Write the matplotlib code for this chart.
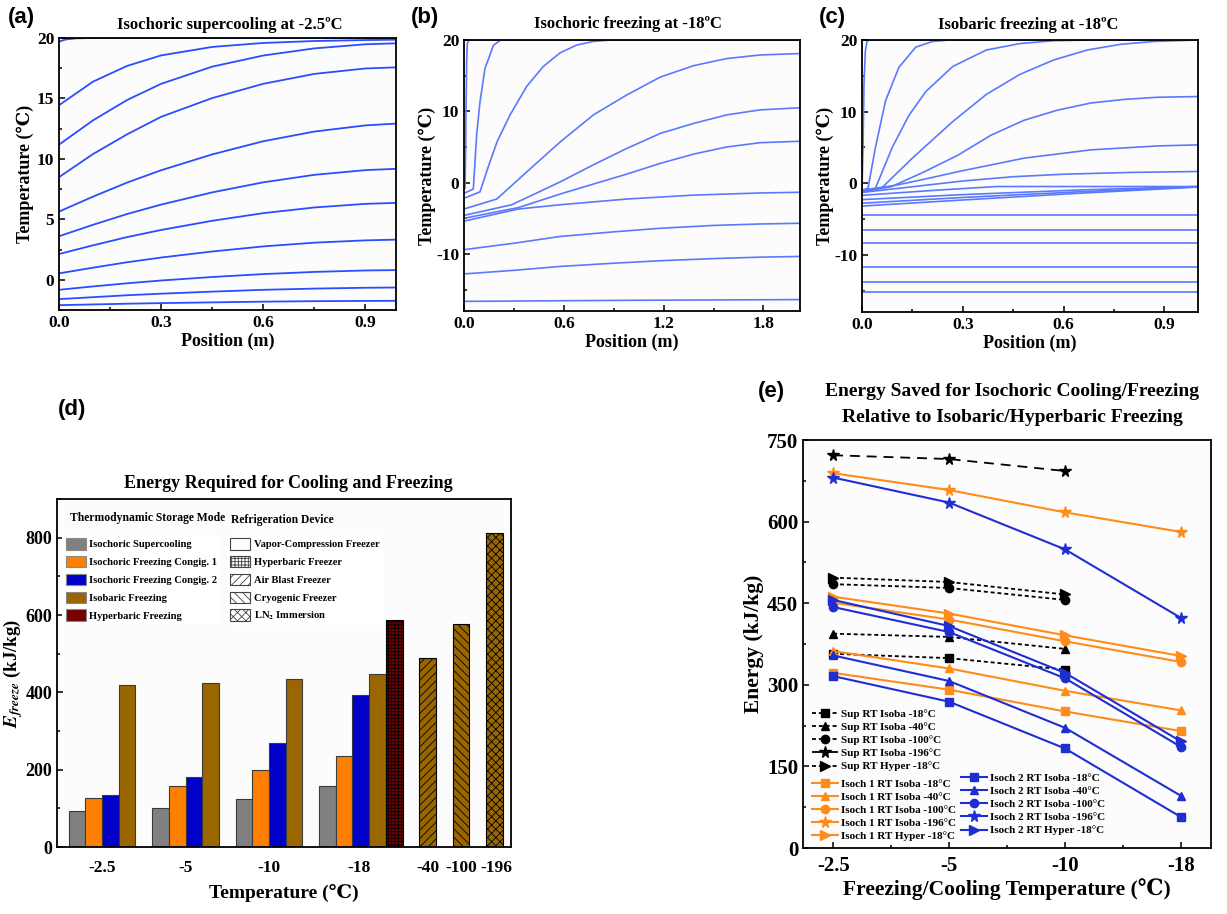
import matplotlib
matplotlib.use('Agg')
import matplotlib.pyplot as plt
from matplotlib.patches import Patch
from matplotlib.ticker import MultipleLocator, FixedLocator

plt.rcParams['font.family'] = ['Liberation Serif', 'DejaVu Serif', 'DejaVu Sans']
plt.rcParams['font.weight'] = 'bold'
plt.rcParams['axes.labelweight'] = 'bold'
plt.rcParams['axes.titleweight'] = 'bold'
plt.rcParams['mathtext.fontset'] = 'stix'
plt.rcParams['hatch.linewidth'] = 0.6
plt.rcParams['axes.linewidth'] = 1.3
plt.rcParams['axes.unicode_minus'] = False

# ---------------- Panel (a): isochoric supercooling profiles ----------------
a_pos = [0, 0.1, 0.2, 0.3, 0.45, 0.6, 0.75, 0.9, 0.99]
a_top_pos = [0, 0.02, 0.05, 0.1, 0.99]
a_top_temp = [19.70, 19.88, 19.97, 20.0, 20.0]
a_profiles = [
    [14.44, 16.39, 17.69, 18.56, 19.26, 19.59, 19.75, 19.83, 19.86],
    [11.18, 13.19, 14.87, 16.21, 17.63, 18.55, 19.14, 19.48, 19.56],
    [8.49, 10.40, 12.03, 13.48, 15.03, 16.21, 17.03, 17.48, 17.57],
    [5.64, 6.88, 8.04, 9.06, 10.37, 11.46, 12.26, 12.77, 12.92],
    [3.60, 4.55, 5.44, 6.22, 7.23, 8.06, 8.68, 9.07, 9.18],
    [2.13, 2.85, 3.53, 4.12, 4.88, 5.51, 5.98, 6.28, 6.36],
    [0.53, 1.00, 1.45, 1.84, 2.34, 2.76, 3.07, 3.26, 3.32],
    [-0.83, -0.55, -0.29, -0.06, 0.23, 0.47, 0.65, 0.77, 0.80],
    [-1.60, -1.44, -1.28, -1.15, -0.98, -0.83, -0.73, -0.66, -0.64],
    [-2.10, -2.04, -1.98, -1.93, -1.87, -1.81, -1.77, -1.75, -1.74],
]

# ---------------- Panel (b): isochoric freezing profiles ----------------
b_curves = [
    ([0, 0.006, 0.009, 0.012, 0.016, 0.02, 0.03, 2.02], [-0.8, -0.8, 3.0, 10.0, 17.0, 19.5, 20.0, 20.0]),
    ([0, 0.056, 0.076, 0.096, 0.126, 0.177, 0.217, 0.24, 2.02], [-1.5, -0.9, 6.7, 11.3, 16.0, 19.25, 19.95, 20.0, 20.0]),
    ([0, 0.096, 0.15, 0.2, 0.277, 0.377, 0.477, 0.578, 0.678, 0.778, 0.88, 2.02],
     [-2.2, -1.3, 2.5, 5.8, 9.5, 13.5, 16.3, 18.2, 19.3, 19.8, 20.0, 20.0]),
    ([0, 0.197, 0.377, 0.578, 0.778, 0.979, 1.18, 1.38, 1.58, 1.78, 2.02],
     [-3.7, -2.3, 1.5, 5.7, 9.5, 12.3, 14.8, 16.4, 17.4, 17.9, 18.1]),
    ([0, 0.287, 0.578, 0.778, 0.979, 1.18, 1.38, 1.58, 1.78, 2.02],
     [-4.6, -3.1, 0.1, 2.5, 4.8, 6.9, 8.3, 9.5, 10.2, 10.5]),
    ([0, 0.327, 0.578, 0.778, 0.979, 1.18, 1.38, 1.58, 1.78, 2.02],
     [-5.0, -3.5, -1.6, -0.2, 1.2, 2.7, 4.0, 5.0, 5.6, 5.8]),
    ([0, 0.327, 0.578, 0.979, 1.38, 1.78, 2.02], [-5.4, -3.7, -3.1, -2.3, -1.75, -1.45, -1.35]),
    ([0, 0.3, 0.578, 0.9, 1.18, 1.5, 1.78, 2.02], [-9.4, -8.5, -7.55, -6.9, -6.4, -6.0, -5.8, -5.7]),
    ([0, 0.3, 0.578, 0.9, 1.18, 1.5, 1.78, 2.02], [-12.8, -12.3, -11.75, -11.3, -10.95, -10.65, -10.45, -10.35]),
    ([0, 1.0, 2.02], [-16.65, -16.5, -16.4]),
]

# ---------------- Panel (c): isobaric freezing profiles ----------------
c_curves = [
    ([0, 0.003, 0.006, 0.01, 0.015, 0.02, 1.0], [-0.8, 5.0, 14.0, 18.5, 19.8, 20.0, 20.0]),
    ([0, 0.018, 0.04, 0.07, 0.11, 0.16, 0.21, 0.26, 1.0], [-1.0, -0.7, 5.0, 11.5, 16.2, 19.0, 19.8, 20.0, 20.0]),
    ([0, 0.04, 0.09, 0.14, 0.19, 0.27, 0.37, 0.47, 0.57, 0.68, 1.0],
     [-1.1, -0.7, 5.0, 9.5, 12.8, 16.3, 18.6, 19.5, 19.9, 20.0, 20.0]),
    ([0, 0.06, 0.15, 0.27, 0.37, 0.47, 0.57, 0.67, 0.77, 0.87, 1.0],
     [-1.3, -0.6, 3.5, 8.6, 12.4, 15.2, 17.2, 18.6, 19.4, 19.8, 20.0]),
    ([0, 0.087, 0.186, 0.285, 0.384, 0.483, 0.582, 0.681, 0.78, 0.879, 1.0],
     [-1.2, -0.5, 1.6, 3.9, 6.7, 8.8, 10.2, 11.2, 11.7, 12.0, 12.1]),
    ([0, 0.1, 0.2, 0.285, 0.483, 0.681, 0.879, 1.0], [-1.0, -0.3, 0.7, 1.6, 3.5, 4.65, 5.2, 5.35]),
    ([0, 0.15, 0.3, 0.45, 0.6, 0.8, 1.0], [-1.3, -0.5, 0.3, 0.9, 1.25, 1.5, 1.63]),
    ([0, 0.2, 0.4, 1.0], [-1.7, -1.05, -0.47, -0.47]),
    ([0, 0.3, 0.65, 1.0], [-2.3, -1.6, -0.95, -0.47]),
    ([0, 0.3, 0.65, 1.0], [-2.8, -2.0, -1.2, -0.5]),
    ([0, 0.3, 0.65, 1.0], [-3.2, -2.35, -1.4, -0.55]),
]
c_flat_temps = [-4.42, -6.55, -8.37, -11.65, -13.86, -15.2]

# ---------------- Panel (d): energy required ----------------
d_temps = ['-2.5', '-5', '-10', '-18', '-40', '-100', '-196']
d_supercooling = [94, 102, 123, 159]
d_isoch1 = [127, 158, 199, 235]
d_isoch2 = [134, 181, 268, 392]
d_isobaric = [419, 425, 435, 448]
d_hyperbaric = [588]
d_isobaric_low = [488, 577, 813]   # -40 air blast, -100 cryogenic, -196 LN2

# ---------------- Panel (e): energy saved ----------------
e_temps = ['-2.5', '-5', '-10', '-18']
sup_isoba_18 = [357, 349, 328]
sup_isoba_40 = [394, 388, 366]
sup_isoba_100 = [485, 478, 456]
sup_isoba_196 = [722, 715, 693]
sup_hyper_18 = [497, 489, 466]
i1_isoba_18 = [322, 291, 251, 215]
i1_isoba_40 = [362, 330, 289, 253]
i1_isoba_100 = [451, 420, 380, 342]
i1_isoba_196 = [689, 658, 617, 581]
i1_hyper_18 = [462, 431, 391, 353]
i2_isoba_18 = [316, 269, 183, 57]
i2_isoba_40 = [354, 307, 221, 96]
i2_isoba_100 = [443, 397, 312, 186]
i2_isoba_196 = [681, 635, 549, 423]
i2_hyper_18 = [456, 408, 322, 196]

W, H = 1227, 914
fig = plt.figure(figsize=(W / 100, H / 100), dpi=100)
fig.patch.set_facecolor('white')


def rect(l, t, r, b):
    return [l / W, 1 - b / H, (r - l) / W, (b - t) / H]


def ftext(x, y, s, **kw):
    fig.text(x / W, 1 - y / H, s, ha='center', va='center', **kw)


def style_axes(ax, tick_size):
    ax.set_facecolor('#fcfcfc')
    ax.tick_params(which='both', direction='in', top=False, right=False, labelsize=tick_size, width=1.1)
    ax.tick_params(which='major', length=4)
    ax.tick_params(which='minor', length=2.5)
    for lab in ax.get_xticklabels() + ax.get_yticklabels():
        lab.set_fontweight('bold')


line_a = '#2b4cff'
line_bc = '#5b79ff'

# ---- (a)
axa = fig.add_axes(rect(59, 38, 396, 310))
axa.plot(a_top_pos, a_top_temp, color=line_a, lw=1.3)
for prof in a_profiles:
    axa.plot(a_pos, prof, color=line_a, lw=1.3)
axa.set_xlim(0, 0.99)
axa.set_ylim(-2.5, 20)
axa.xaxis.set_major_locator(FixedLocator([0.0, 0.3, 0.6, 0.9]))
axa.xaxis.set_minor_locator(MultipleLocator(0.15))
axa.yaxis.set_major_locator(MultipleLocator(5))
axa.yaxis.set_minor_locator(MultipleLocator(2.5))
axa.set_xticklabels(['0.0', '0.3', '0.6', '0.9'])
axa.set_xlabel('Position (m)', fontsize=13, labelpad=1)
axa.set_ylabel('Temperature (\u2103)', fontsize=13, labelpad=2)
style_axes(axa, 12.5)

# ---- (b)
axb = fig.add_axes(rect(464, 40, 800, 311))
for xs, ys in b_curves:
    axb.plot(xs, ys, color=line_bc, lw=1.2)
axb.set_xlim(0, 2.02)
axb.set_ylim(-18, 20)
axb.xaxis.set_major_locator(FixedLocator([0.0, 0.6, 1.2, 1.8]))
axb.xaxis.set_minor_locator(MultipleLocator(0.3))
axb.yaxis.set_major_locator(FixedLocator([-10, 0, 10, 20]))
axb.yaxis.set_minor_locator(MultipleLocator(5))
axb.set_xticklabels(['0.0', '0.6', '1.2', '1.8'])
axb.set_xlabel('Position (m)', fontsize=13, labelpad=1)
axb.set_ylabel('Temperature (\u2103)', fontsize=13, labelpad=0)
style_axes(axb, 12.5)

# ---- (c)
axc = fig.add_axes(rect(862, 40, 1198, 312))
for xs, ys in c_curves:
    axc.plot(xs, ys, color=line_bc, lw=1.2)
for t in c_flat_temps:
    axc.plot([0, 1.0], [t, t], color=line_bc, lw=1.2)
axc.set_xlim(0, 1.0)
axc.set_ylim(-18, 20)
axc.xaxis.set_major_locator(FixedLocator([0.0, 0.3, 0.6, 0.9]))
axc.xaxis.set_minor_locator(MultipleLocator(0.15))
axc.yaxis.set_major_locator(FixedLocator([-10, 0, 10, 20]))
axc.yaxis.set_minor_locator(MultipleLocator(5))
axc.set_xticklabels(['0.0', '0.3', '0.6', '0.9'])
axc.set_xlabel('Position (m)', fontsize=13, labelpad=1)
axc.set_ylabel('Temperature (\u2103)', fontsize=13, labelpad=0)
style_axes(axc, 12.5)

# titles & letters for top row
ftext(230, 25, 'Isochoric supercooling at -2.5\u00baC', fontsize=12, fontweight='bold')
ftext(628, 24, 'Isochoric freezing at -18\u00baC', fontsize=12, fontweight='bold')
ftext(1028, 25, 'Isobaric freezing at -18\u00baC', fontsize=12, fontweight='bold')
for x, y, s in [(21, 17, '(a)'), (425, 18, '(b)'), (832, 17, '(c)'), (72, 410, '(d)'), (771, 392, '(e)')]:
    ftext(x, y, s, fontsize=16, fontweight='bold', family=['Liberation Sans', 'DejaVu Sans'])

# ---- (d)
c_grey, c_orange, c_blue, c_brown, c_red = '#808080', '#ff8000', '#0000c8', '#9a6600', '#760000'
edge = '#3a3a3a'
axd = fig.add_axes(rect(57, 499, 511, 847))
grp_left = [0, 5, 10, 15]
series_d = [(d_supercooling, c_grey), (d_isoch1, c_orange), (d_isoch2, c_blue), (d_isobaric, c_brown)]
for k, (vals, col) in enumerate(series_d):
    axd.bar([g + k + 0.5 for g in grp_left], vals, width=1.0, color=col, edgecolor=edge, linewidth=0.8)
axd.bar([19.5], d_hyperbaric, width=1.0, color=c_red, edgecolor='black', linewidth=0.8, hatch='+++++')
for xpos, val, hatch in zip([21.5, 23.5, 25.5], d_isobaric_low, ['////', '\\\\\\\\', 'xxxx']):
    axd.bar([xpos], [val], width=1.0, color=c_brown, edgecolor='black', linewidth=0.8, hatch=hatch)
axd.set_xlim(-0.7, 26.5)
axd.set_ylim(0, 900)
axd.xaxis.set_major_locator(FixedLocator([2, 7, 12, 17.4, 21.5, 23.5, 25.6]))
axd.set_xticklabels(d_temps)
axd.yaxis.set_major_locator(MultipleLocator(200))
axd.yaxis.set_minor_locator(MultipleLocator(100))
style_axes(axd, 13)
axd.tick_params(axis='x', which='both', length=0, pad=9, labelsize=12.5)
axd.set_xlabel('Temperature (\u2103)', fontsize=14, labelpad=6)
axd.set_ylabel(r'$\mathit{E}_{freeze}$ (kJ/kg)', fontsize=13.5)
axd.yaxis.set_label_coords(-0.07, 0.5)
ftext(288, 484, 'Energy Required for Cooling and Freezing', fontsize=13, fontweight='bold')

axd.text(0.029, 0.945, 'Thermodynamic Storage Mode', transform=axd.transAxes, ha='left', va='center',
         fontsize=8.4, fontweight='bold')
axd.text(0.383, 0.94, 'Refrigeration Device', transform=axd.transAxes, ha='left', va='center',
         fontsize=8.4, fontweight='bold')
leg_common = dict(loc='upper left', frameon=True, facecolor='white', edgecolor='none',
                  framealpha=1, fancybox=False, handlelength=1.9, handleheight=1.3, labelspacing=0.6,
                  handletextpad=0.35, borderpad=0.3, borderaxespad=0,
                  prop={'weight': 'bold', 'size': 7.6})
mode_handles = [Patch(facecolor=c, edgecolor='#888888', linewidth=0.8) for c in [c_grey, c_orange, c_blue, c_brown, c_red]]
mode_labels = ['Isochoric Supercooling', 'Isochoric Freezing Congig. 1', 'Isochoric Freezing Congig. 2',
               'Isobaric Freezing', 'Hyperbaric Freezing']
leg1 = axd.legend(mode_handles, mode_labels, bbox_to_anchor=(0.012, 0.897), **leg_common)
axd.add_artist(leg1)
dev_handles = [Patch(facecolor='white', edgecolor='#444444', linewidth=0.8, hatch=h)
               for h in ['', '+++++', '////', '\\\\\\\\', 'xxxx']]
dev_labels = ['Vapor-Compression Freezer', 'Hyperbaric Freezer', 'Air Blast Freezer',
              'Cryogenic Freezer', 'LN$_2$ Immersion']
leg2 = axd.legend(dev_handles, dev_labels, bbox_to_anchor=(0.374, 0.897), **leg_common)

# ---- (e)
c_or, c_bl = '#ff8c1a', '#1f2ed2'
axe = fig.add_axes(rect(803, 440, 1211, 848))
xe = list(range(len(e_temps)))
markers = ['s', '^', 'o', '*', '>']
msizes = [5.5, 6, 6, 8.5, 6.5]
sup_series = [sup_isoba_18, sup_isoba_40, sup_isoba_100, sup_isoba_196, sup_hyper_18]
sup_labels = ['Sup RT Isoba -18\u00b0C', 'Sup RT Isoba -40\u00b0C', 'Sup RT Isoba -100\u00b0C',
              'Sup RT Isoba -196\u00b0C', 'Sup RT Hyper -18\u00b0C']
i1_series = [i1_isoba_18, i1_isoba_40, i1_isoba_100, i1_isoba_196, i1_hyper_18]
i1_labels = [s.replace('Sup', 'Isoch 1') for s in sup_labels]
i2_series = [i2_isoba_18, i2_isoba_40, i2_isoba_100, i2_isoba_196, i2_hyper_18]
i2_labels = [s.replace('Sup', 'Isoch 2') for s in sup_labels]

sup_lines = []
for vals, m, ms, lab in zip(sup_series, markers, msizes, sup_labels):
    dashes = (5.5, 3.8) if m == '*' else (2.2, 1.6)
    ln, = axe.plot(xe[:len(vals)], vals, color='black', lw=1.3, dashes=dashes, marker=m, ms=ms, label=lab)
    sup_lines.append(ln)
i1_lines = []
for vals, m, ms, lab in zip(i1_series, markers, msizes, i1_labels):
    ln, = axe.plot(xe, vals, color=c_or, lw=1.5, marker=m, ms=ms, label=lab)
    i1_lines.append(ln)
i2_lines = []
for vals, m, ms, lab in zip(i2_series, markers, msizes, i2_labels):
    ln, = axe.plot(xe, vals, color=c_bl, lw=1.5, marker=m, ms=ms, label=lab)
    i2_lines.append(ln)

axe.set_xlim(-0.26, 3.26)
axe.set_ylim(0, 750)
axe.xaxis.set_major_locator(FixedLocator(xe))
axe.xaxis.set_minor_locator(FixedLocator([-0.5, 0.5, 1.5, 2.5, 3.5]))
axe.set_xticklabels(e_temps)
axe.yaxis.set_major_locator(MultipleLocator(150))
axe.yaxis.set_minor_locator(MultipleLocator(75))
style_axes(axe, 15)
axe.tick_params(axis='x', which='major', pad=6)
axe.set_xlabel('Freezing/Cooling Temperature (\u2103)', fontsize=15.5, labelpad=1)
axe.set_ylabel('Energy (kJ/kg)', fontsize=15.5, labelpad=2)
ftext(1012, 392, 'Energy Saved for Isochoric Cooling/Freezing', fontsize=14, fontweight='bold')
ftext(1012, 417, 'Relative to Isobaric/Hyperbaric Freezing', fontsize=14, fontweight='bold')

leg_kw = dict(frameon=False, handlelength=2.3, handletextpad=0.3, labelspacing=0.3,
              borderpad=0.1, borderaxespad=0, prop={'weight': 'bold', 'size': 8})
lg1 = axe.legend(handles=sup_lines, loc='upper left', bbox_to_anchor=(0.02, 0.343), **leg_kw)
axe.add_artist(lg1)
lg2 = axe.legend(handles=i1_lines, loc='upper left', bbox_to_anchor=(0.02, 0.172), **leg_kw)
axe.add_artist(lg2)
lg3 = axe.legend(handles=i2_lines, loc='upper left', bbox_to_anchor=(0.385, 0.186), **leg_kw)

fig.savefig('out.png', dpi=100, facecolor='white')
